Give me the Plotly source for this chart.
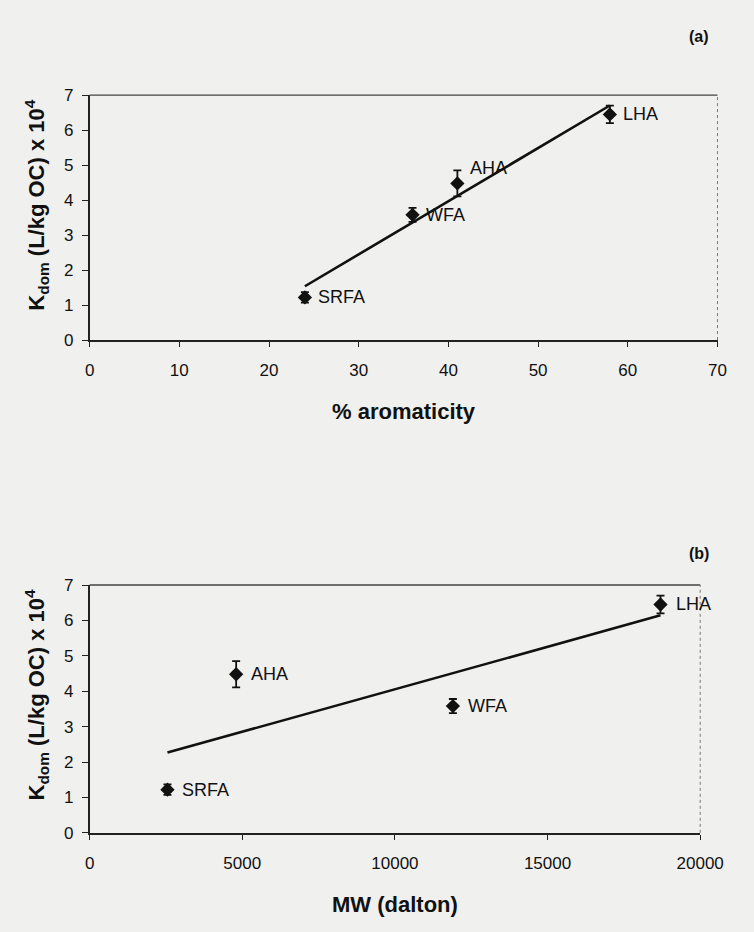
import numpy as np
import plotly.graph_objects as go

# Sorption coefficients to four dissolved organic matter isolates
samples = ["SRFA", "WFA", "AHA", "LHA"]
kdom = [1.22, 3.58, 4.48, 6.45]          # K_dom (L/kg OC) x 10^4
kdom_err = [0.15, 0.20, 0.37, 0.25]
aromaticity = [24, 36, 41, 58]            # % aromaticity
mw = [2550, 11900, 4800, 18700]           # MW (dalton)

x_ticks_a = [0, 10, 20, 30, 40, 50, 60, 70]
x_ticks_b = [0, 5000, 10000, 15000, 20000]
y_ticks = [0, 1, 2, 3, 4, 5, 6, 7]

W, H = 754, 932
BG = "#f0f0ee"
INK = "#111111"
FONT = "Liberation Sans, Arial, sans-serif"


def px_x(p):
    return p / W


def px_y(p):
    return 1 - p / H


fig = go.Figure()

panels = [
    dict(x=aromaticity, xa="x", ya="y", xr=[0, 70], ticks=x_ticks_a,
         xdom=[px_x(88), px_x(741)], ydom=[px_y(338), px_y(88)],
         title="% aromaticity", tag="(a)", tag_y=28, title_y=411,
         yshift={"AHA": 15}, xshift=11),
    dict(x=mw, xa="x2", ya="y2", xr=[0, 20000], ticks=x_ticks_b,
         xdom=[px_x(88), px_x(723)], ydom=[px_y(841), px_y(588)],
         title="MW (dalton)", tag="(b)", tag_y=556, title_y=914,
         yshift={}, xshift=13),
]

for i, p in enumerate(panels):
    # least-squares line through the four isolates
    slope, icpt = np.polyfit(p["x"], kdom, 1)
    xfit = np.array([min(p["x"]), max(p["x"])])
    fig.add_trace(go.Scatter(
        x=xfit, y=slope * xfit + icpt, mode="lines",
        line=dict(color=INK, width=2.6),
        xaxis=p["xa"], yaxis=p["ya"], showlegend=False, hoverinfo="skip"))
    fig.add_trace(go.Scatter(
        x=p["x"], y=kdom, mode="markers",
        marker=dict(symbol="diamond", size=11, color=INK),
        error_y=dict(type="data", array=kdom_err, visible=True,
                     color=INK, thickness=1.8, width=4),
        xaxis=p["xa"], yaxis=p["ya"], showlegend=False))

    for name, xv, yv in zip(samples, p["x"], kdom):
        fig.add_annotation(
            x=xv, y=yv, xref=p["xa"], yref=p["ya"], text=name,
            showarrow=False, xanchor="left", yanchor="middle",
            xshift=p["xshift"], yshift=p["yshift"].get(name, 0),
            font=dict(family=FONT, size=18, color=INK))

    suffix = "" if i == 0 else str(i + 1)
    fig.update_layout(**{
        "xaxis" + suffix: dict(
            domain=p["xdom"], range=p["xr"], tickvals=p["ticks"],
            tickformat="d",
            showline=True, linecolor="#222222", linewidth=1.5,
            ticks="outside", ticklen=5, tickcolor="#222222",
            ticklabelstandoff=9,
            showgrid=False, zeroline=False, anchor=p["ya"],
            tickfont=dict(family=FONT, size=17, color=INK)),
        "yaxis" + suffix: dict(
            domain=p["ydom"], range=[0, 7], tickvals=y_ticks,
            showline=True, linecolor="#222222", linewidth=1.5,
            ticks="outside", ticklen=6, tickcolor="#222222",
            ticklabelstandoff=5,
            showgrid=False, zeroline=False, anchor=p["xa"],
            tickfont=dict(family=FONT, size=17, color=INK)),
    })

    # upper and right frame edges of the plot area
    fig.add_shape(type="line", xref="paper", yref="paper",
                  x0=p["xdom"][0], x1=p["xdom"][1], y0=p["ydom"][1], y1=p["ydom"][1],
                  line=dict(color="#444444", width=1.3))
    fig.add_shape(type="line", xref="paper", yref="paper",
                  x0=p["xdom"][1], x1=p["xdom"][1], y0=p["ydom"][0], y1=p["ydom"][1],
                  line=dict(color="#777777", width=1, dash="dot"))

    # axis titles and panel tags
    fig.add_annotation(
        x=(p["xdom"][0] + p["xdom"][1]) / 2, y=px_y(p["title_y"]),
        xref="paper", yref="paper", text="<b>%s</b>" % p["title"],
        showarrow=False, xanchor="center", yanchor="middle",
        font=dict(family=FONT, size=22, color=INK))
    top_px = (1 - p["ydom"][1]) * H
    fig.add_annotation(
        x=px_x(33), y=px_y(top_px + 112),
        xref="paper", yref="paper",
        text="<b>K<sub>dom</sub> (L/kg OC) x 10<sup>4</sup></b>",
        textangle=-90, showarrow=False, xanchor="center", yanchor="middle",
        font=dict(family=FONT, size=22, color=INK))
    fig.add_annotation(
        x=px_x(734), y=px_y(p["tag_y"]), xref="paper", yref="paper",
        text="<b>%s</b>" % p["tag"], showarrow=False,
        xanchor="right", yanchor="middle",
        font=dict(family=FONT, size=16, color=INK))

fig.update_layout(
    width=W, height=H, margin=dict(l=0, r=0, t=0, b=0),
    paper_bgcolor=BG, plot_bgcolor=BG, showlegend=False)

fig.write_html("out.html")
